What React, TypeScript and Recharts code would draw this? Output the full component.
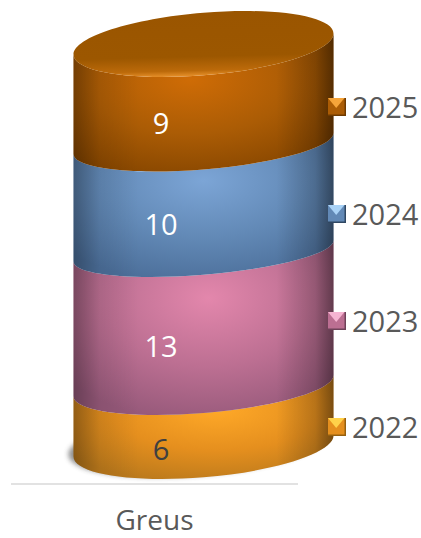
import React from 'react';
import { BarChart, Bar, XAxis, YAxis, Legend, LabelList } from 'recharts';

const categories = ['Greus'];
const seriesNames = ['2022', '2023', '2024', '2025'];
const values2022 = [6];
const values2023 = [13];
const values2024 = [10];
const values2025 = [9];

const chartData = categories.map((name, i) => ({
  name,
  '2022': values2022[i],
  '2023': values2023[i],
  '2024': values2024[i],
  '2025': values2025[i],
}));

const tones: Record<string, any> = {
  '2022': { hi: '#FFA928', mid: '#E58F1E', lo: '#BC7A1C', light: '#FFD24A', dark: '#96600F', label: '#404040', glow: 0.55, labelDy: -3 },
  '2023': { hi: '#E387AC', mid: '#BC6F92', lo: '#96597A', light: '#F6B4D2', dark: '#6E4259', label: '#FFFFFF', glow: 0.52, labelDy: -5 },
  '2024': { hi: '#7CA5D6', mid: '#6289B6', lo: '#4C6F9A', light: '#A9D2F6', dark: '#2F4762', label: '#FFFFFF', glow: 0.5, labelDy: -5 },
  '2025': { hi: '#CF6C06', mid: '#AB5C05', lo: '#884700', light: '#F5A43A', dark: '#6E3A00', label: '#FFFFFF', glow: 0.45, labelDy: -6 },
};

const WIDTH = 421;
const HEIGHT = 538;
const FONT = '"Open Sans", sans-serif';
// the cylinder sits behind the axis plane
const DEPTH_X = 48.5;
const DEPTH_Y = 38;
const TOP_Y = 44;
const BOTTOM_Y = 446;
const SHEAR = 10.5;
const K = 0.5523;

const frac = (y: number) => (y - TOP_Y) / (BOTTOM_Y - TOP_Y);
// slight perspective: rings bow down in the middle and flatten
const bow = (y: number) => y + 24 * frac(y) * (1 - frac(y));
const sag = (y: number) => {
  const h = 26 + 28 * (frac(y) - 0.5) ** 2;
  return Math.sqrt(h * h - SHEAR * SHEAR);
};

const lowerArc = (cx: number, cy: number, a: number, b: number, fromLeft: boolean) => {
  const p = (x: number, y: number) => `${cx + x} ${cy + y}`;
  const s = SHEAR;
  if (fromLeft) {
    return `C ${p(-a, s + K * b)} ${p(-K * a, b + K * s)} ${p(0, b)} C ${p(K * a, b - K * s)} ${p(a, -s + K * b)} ${p(a, -s)}`;
  }
  return `C ${p(a, -s + K * b)} ${p(K * a, b - K * s)} ${p(0, b)} C ${p(-K * a, b + K * s)} ${p(-a, s + K * b)} ${p(-a, s)}`;
};

const upperArc = (cx: number, cy: number, a: number, b: number) => {
  const p = (x: number, y: number) => `${cx + x} ${cy + y}`;
  const s = SHEAR;
  return `C ${p(a, -s - K * b)} ${p(K * a, -b - K * s)} ${p(0, -b)} C ${p(-K * a, -b + K * s)} ${p(-a, s - K * b)} ${p(-a, s)}`;
};

const ellipsePath = (cx: number, cy: number, a: number, b: number) =>
  `M ${cx - a} ${cy + SHEAR} ${lowerArc(cx, cy, a, b, true)} ${upperArc(cx, cy, a, b)} Z`;

function CylinderBand(props: any) {
  const { x, y, width, height, seriesName } = props;
  const tone = tones[seriesName];
  const a = width / 2;
  const cx = x + a + DEPTH_X;
  const topY = bow(y - DEPTH_Y);
  const botY = bow(y + height - DEPTH_Y);
  const bTop = sag(y - DEPTH_Y);
  const bBot = sag(y + height - DEPTH_Y);
  const band =
    `M ${cx - a} ${topY + SHEAR} ${lowerArc(cx, topY, a, bTop, true)} ` +
    `L ${cx + a} ${botY - SHEAR} ${lowerArc(cx, botY, a, bBot, false)} Z`;
  const id = `band${seriesName}`;
  return (
    <g>
      <defs>
        <radialGradient id={id} cx={tone.glow} cy="0.33" r="0.72">
          <stop offset="0" stopColor={tone.hi} />
          <stop offset="0.55" stopColor={tone.mid} />
          <stop offset="1" stopColor={tone.lo} />
        </radialGradient>
        <linearGradient id={`${id}edge`} x1="0" x2="1" y1="0" y2="0">
          <stop offset="0" stopColor="#000" stopOpacity="0.3" />
          <stop offset="0.1" stopColor="#000" stopOpacity="0.08" />
          <stop offset="0.25" stopColor="#000" stopOpacity="0" />
          <stop offset="0.78" stopColor="#000" stopOpacity="0" />
          <stop offset="0.93" stopColor="#000" stopOpacity="0.2" />
          <stop offset="1" stopColor="#000" stopOpacity="0.45" />
        </linearGradient>
        <linearGradient id="capRim" x1="0.1" x2="0.2" y1="0" y2="1">
          <stop offset="0" stopColor="#9A5500" />
          <stop offset="0.72" stopColor="#9C5700" />
          <stop offset="0.93" stopColor="#BC6A0A" />
          <stop offset="1" stopColor="#E08A25" />
        </linearGradient>
        <filter id="groundBlur" x="-20%" y="-20%" width="140%" height="140%">
          <feGaussianBlur stdDeviation="2.5" />
        </filter>
      </defs>
      {seriesName === '2022' && (
        <path d={ellipsePath(cx - 5, botY - 2, a, bBot)} fill="#555" opacity={0.65} filter="url(#groundBlur)" />
      )}
      <path d={band} fill={`url(#${id})`} />
      <path d={band} fill={`url(#${id}edge)`} />
      {seriesName === '2025' && <path d={ellipsePath(cx, topY, a, bTop)} fill="url(#capRim)" />}
    </g>
  );
}

function LegendKey({ tone }: any) {
  return (
    <svg width={18} height={18} style={{ display: 'block', flex: 'none' }}>
      <rect x={0} y={0} width={18} height={18} fill={tone.dark} />
      <rect x={0} y={0} width={16.5} height={16.5} fill={tone.mid} />
      <polygon points="0,0 16.5,0 8.2,10" fill={tone.light} />
    </svg>
  );
}

function RightLegend({ payload }: any) {
  const items = [...(payload || [])].reverse();
  return (
    <div style={{ position: 'absolute', left: 328, top: 54 }}>
      {items.map((item: any) => (
        <div key={item.value} style={{ height: 106.7, display: 'flex', alignItems: 'center', width: 93 }}>
          <LegendKey tone={tones[item.value]} />
          <span style={{ marginLeft: 6, fontFamily: FONT, fontSize: 29, color: '#595959', lineHeight: '38px' }}>
            {item.value}
          </span>
        </div>
      ))}
    </div>
  );
}

export default function App() {
  return (
    <div style={{ position: 'absolute', left: 0, top: 0 }}>
      <BarChart
        width={WIDTH}
        height={HEIGHT}
        data={chartData}
        margin={{ top: 82, right: 123, bottom: 0, left: 11 }}
      >
        <XAxis
          dataKey="name"
          height={54}
          tickLine={false}
          tickMargin={20}
          tick={{ fontFamily: FONT, fontSize: 28, fill: '#595959' }}
          axisLine={{ stroke: '#D9D9D9', strokeWidth: 1.5 }}
        />
        <YAxis hide domain={[0, 38]} />
        <Legend content={<RightLegend />} wrapperStyle={{ left: 0, top: 0, width: 0, height: 0 }} />
        {seriesNames.map((name) => (
          <Bar
            key={name}
            dataKey={name}
            name={name}
            stackId="a"
            barSize={260}
            fill={tones[name].mid}
            isAnimationActive={false}
            shape={(p: any) => <CylinderBand {...p} seriesName={name} />}
          >
            <LabelList
              dataKey={name}
              position="center"
              dx={6}
              dy={tones[name].labelDy}
              style={{ fontFamily: FONT, fontSize: 29, fill: tones[name].label }}
            />
          </Bar>
        ))}
      </BarChart>
    </div>
  );
}
